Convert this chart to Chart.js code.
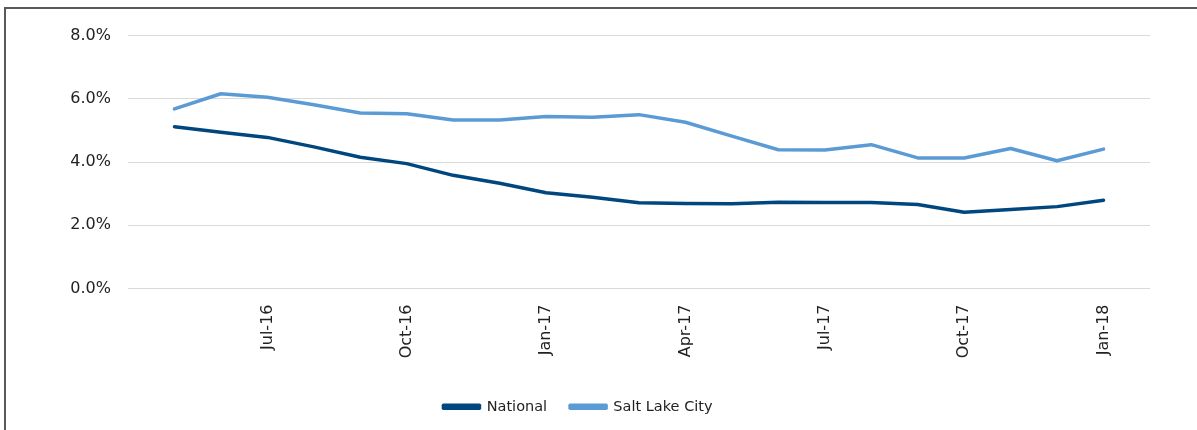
<!DOCTYPE html>
<html>
<head>
<meta charset="utf-8">
<script src="https://cdn.jsdelivr.net/npm/chart.js@4/dist/chart.umd.min.js"></script>
<style>
  html, body { margin: 0; padding: 0; background: #fff; }
  .frame {
    position: absolute; left: 4px; top: 7px;
    width: 1193px; height: 423px;
    border-top: 2px solid #595959; border-left: 2px solid #595959;
    box-sizing: border-box;
  }
  .frame canvas { display: block; }
</style>
</head>
<body>
<div class="frame"><canvas id="chart" width="1191" height="421"></canvas></div>
<script>
// Monatsachse: Apr-16 und Feb-18 haben keine Werte (nur Achsenrand)
const months = ['Apr-16', 'May-16', 'Jun-16', 'Jul-16', 'Aug-16', 'Sep-16', 'Oct-16', 'Nov-16', 'Dec-16',
  'Jan-17', 'Feb-17', 'Mar-17', 'Apr-17', 'May-17', 'Jun-17', 'Jul-17', 'Aug-17', 'Sep-17', 'Oct-17',
  'Nov-17', 'Dec-17', 'Jan-18', 'Feb-18'];
const shownTicks = ['Jul-16', 'Oct-16', 'Jan-17', 'Apr-17', 'Jul-17', 'Oct-17', 'Jan-18'];

const national = [null, 5.12, 4.94, 4.78, 4.48, 4.15, 3.95, 3.58, 3.33,
  3.03, 2.89, 2.71, 2.69, 2.68, 2.73, 2.72, 2.72, 2.66, 2.41,
  2.50, 2.59, 2.79, null];
const saltLakeCity = [null, 5.68, 6.16, 6.05, 5.81, 5.55, 5.53, 5.33, 5.33,
  5.44, 5.42, 5.50, 5.26, 4.82, 4.39, 4.38, 4.55, 4.13, 4.13,
  4.43, 4.04, 4.41, null];

const yTicks = [0, 2, 4, 6, 8];

const fontFamily = '"DejaVu Sans", sans-serif';

const canvas = document.getElementById('chart');
const myChart = new Chart(canvas, {
  type: 'line',
  data: {
    labels: months,
    datasets: [
      {
        label: 'National',
        data: national,
        borderColor: '#00477f',
        backgroundColor: '#00477f',
        borderWidth: 3.5,
        pointRadius: 0,
        tension: 0,
        borderCapStyle: 'round',
        borderJoinStyle: 'round'
      },
      {
        label: 'Salt Lake City',
        data: saltLakeCity,
        borderColor: '#5b9bd5',
        backgroundColor: '#5b9bd5',
        borderWidth: 3.5,
        pointRadius: 0,
        tension: 0,
        borderCapStyle: 'round',
        borderJoinStyle: 'round'
      }
    ]
  },
  options: {
    responsive: false,
    animation: false,
    layout: { padding: { top: 26.4, right: 47, left: 0, bottom: 6 } },
    plugins: {
      tooltip: { enabled: false },
      legend: {
        position: 'bottom',
        labels: {
          boxWidth: 36,
          boxHeight: 3,
          padding: 23,
          color: '#222',
          font: { family: fontFamily, size: 14.5 }
        }
      }
    },
    scales: {
      x: {
        grid: { display: false },
        border: { display: false },
        ticks: {
          autoSkip: false,
          minRotation: 90,
          maxRotation: 90,
          padding: 8,
          color: '#222',
          font: { family: fontFamily, size: 16 },
          callback: function (value) {
            const lab = this.getLabelForValue(value);
            return shownTicks.includes(lab) ? lab : '';
          }
        },
        afterFit: (scale) => { scale.height = 88; }
      },
      y: {
        min: 0,
        max: 8,
        afterBuildTicks: (scale) => { scale.ticks = yTicks.map(v => ({ value: v })); },
        grid: { color: '#d9d9d9', lineWidth: 1, drawTicks: false },
        border: { display: false },
        ticks: {
          padding: 17,
          color: '#222',
          font: { family: fontFamily, size: 16 },
          callback: (v) => v.toFixed(1) + '%'
        },
        afterFit: (scale) => { scale.width = 122; }
      }
    }
  }
});
</script>
</body>
</html>
